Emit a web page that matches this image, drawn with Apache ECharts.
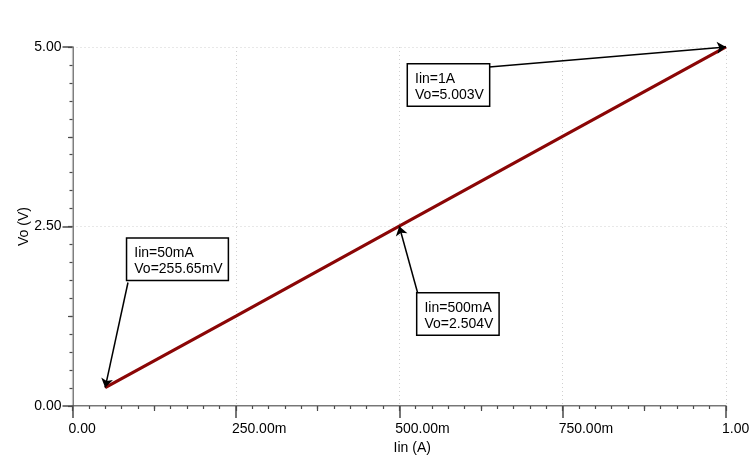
<!DOCTYPE html>
<html>
<head>
<meta charset="utf-8">
<script src="https://cdn.jsdelivr.net/npm/echarts@6/dist/echarts.min.js"></script>
<style>
html,body{margin:0;padding:0;background:#fff;}
#c{width:756px;height:464px;}
</style>
</head>
<body>
<div id="c"></div>
<script>
// ---- data ----
const iin = [0.05, 0.25, 0.5, 0.75, 1.0];           // A
const vo  = [0.25565, 1.252, 2.504, 3.755, 5.003];   // V
const xTickValues = [0, 0.25, 0.5, 0.75, 1];
const xTickLabels = ['0.00', '250.00m', '500.00m', '750.00m', '1.00'];
const yTickValues = [0, 2.5, 5];
const yTickLabels = ['0.00', '2.50', '5.00'];
const calloutText = [
  ['Iin=50mA', 'Vo=255.65mV'],
  ['Iin=500mA', 'Vo=2.504V'],
  ['Iin=1A', 'Vo=5.003V']
];
const calloutTarget = [[0.05, 0.25565], [0.5, 2.504], [1.0, 5.003]];
const calloutBox   = [[0.0846, 2.322], [0.5286, 1.560], [0.5142, 4.749]];
const calloutTail  = [[0.0849, 1.720], [0.5286, 1.560], [0.6376, 4.721]];

const X_MIN = 0, X_MAX = 1, Y_MIN = 0, Y_MAX = 5;

const FONT = '"Liberation Sans", Arial, sans-serif';
const axisCol = '#4a4a4a';

function fmt(vals, labels) {
  return function (v) {
    for (let i = 0; i < vals.length; i++) if (Math.abs(v - vals[i]) < 1e-9) return labels[i];
    return '';
  };
}
function clampPt(p) {
  return [Math.min(Math.max(p[0], X_MIN), X_MAX), Math.min(Math.max(p[1], Y_MIN), Y_MAX)];
}

const chart = echarts.init(document.getElementById('c'), null, {renderer: 'canvas'});

const lineData = iin.map((x, i) => [x, vo[i]]);

const markLines = calloutTarget.map((t, i) => [
  {coord: clampPt(calloutTail[i])},
  {coord: clampPt(t)}
]);

const markPoints = calloutBox.map((b, i) => ({
  coord: b,
  symbol: 'rect',
  symbolSize: 1,
  itemStyle: {color: 'rgba(0,0,0,0)'},
  label: {
    show: true,
    position: [0, 0],
    align: 'left',
    verticalAlign: 'top',
    formatter: calloutText[i].join('\n'),
    fontFamily: FONT,
    fontSize: 14,
    lineHeight: 16.5,
    color: '#000',
    backgroundColor: '#fff',
    borderColor: '#000',
    borderWidth: 1.5,
    padding: [6, 5, 2, 7]
  }
}));

chart.setOption({
  animation: false,
  backgroundColor: '#fff',
  grid: {left: 72.5, right: 30, top: 47, bottom: 58, containLabel: false},
  xAxis: [
    {
      type: 'value', min: X_MIN, max: X_MAX, interval: 0.25, position: 'bottom',
      name: 'Iin (A)', nameLocation: 'middle', nameGap: 35, nameMoveOverlap: false,
      nameTextStyle: {fontFamily: FONT, fontSize: 14, color: '#000', padding: [0, 0, 0, 26]},
      axisLine: {show: true, onZero: false, lineStyle: {color: axisCol, width: 1.5}},
      axisTick: {show: true, length: 12, lineStyle: {color: axisCol, width: 1.5}},
      minorTick: {show: true, splitNumber: 10, length: 3, lineStyle: {color: axisCol, width: 1.2}},
      axisLabel: {formatter: fmt(xTickValues, xTickLabels), fontFamily: FONT, fontSize: 14, color: '#000', margin: 16, align: 'left', padding: [0, 0, 0, -4], showMaxLabel: true, showMinLabel: true},
      splitLine: {show: true, lineStyle: {color: '#d0d0d0', type: [1, 3], width: 1}}
    },
    {
      type: 'value', min: X_MIN, max: X_MAX, interval: 0.125, position: 'bottom',
      axisLine: {show: false}, axisLabel: {show: false}, splitLine: {show: false},
      axisTick: {show: true, length: 5, lineStyle: {color: axisCol, width: 1.2}}
    },
    {
      type: 'value', min: X_MIN, max: X_MAX, position: 'top',
      axisLine: {show: true, lineStyle: {color: '#bdbdbd', width: 1.2, type: 'solid'}},
      axisTick: {show: false}, axisLabel: {show: false}, splitLine: {show: false}
    }
  ],
  yAxis: [
    {
      type: 'value', min: Y_MIN, max: Y_MAX, interval: 2.5, position: 'left',
      name: 'Vo (V)', nameLocation: 'middle', nameGap: 41, nameRotate: 90, nameMoveOverlap: false,
      nameTextStyle: {fontFamily: FONT, fontSize: 14, color: '#000'},
      axisLine: {show: true, onZero: false, lineStyle: {color: axisCol, width: 1.5}},
      axisTick: {show: true, length: 10, lineStyle: {color: axisCol, width: 1.5}},
      minorTick: {show: true, splitNumber: 10, length: 3, lineStyle: {color: axisCol, width: 1.2}},
      axisLabel: {formatter: fmt(yTickValues, yTickLabels), fontFamily: FONT, fontSize: 14, color: '#000', margin: 11},
      splitLine: {show: true, lineStyle: {color: '#d0d0d0', type: [1, 3], width: 1}}
    },
    {
      type: 'value', min: Y_MIN, max: Y_MAX, interval: 1.25, position: 'left',
      axisLine: {show: false}, axisLabel: {show: false}, splitLine: {show: false},
      axisTick: {show: true, length: 4.5, lineStyle: {color: axisCol, width: 1.2}}
    },
    {
      type: 'value', min: Y_MIN, max: Y_MAX, position: 'right',
      axisLine: {show: true, lineStyle: {color: '#bdbdbd', width: 1.2, type: 'solid'}},
      axisTick: {show: false}, axisLabel: {show: false}, splitLine: {show: false}
    }
  ],
  series: [
    {
      type: 'line',
      xAxisIndex: 0, yAxisIndex: 0,
      data: lineData,
      showSymbol: false,
      lineStyle: {color: '#8b0606', width: 3.2},
      z: 3,
      markLine: {
        silent: true,
        symbol: ['none', 'arrow'],
        symbolSize: 9,
        label: {show: false},
        lineStyle: {color: '#000', width: 1.5, type: 'solid'},
        emphasis: {disabled: true},
        data: markLines
      },
      markPoint: {
        silent: true,
        data: markPoints
      }
    }
  ]
});
</script>
</body>
</html>
